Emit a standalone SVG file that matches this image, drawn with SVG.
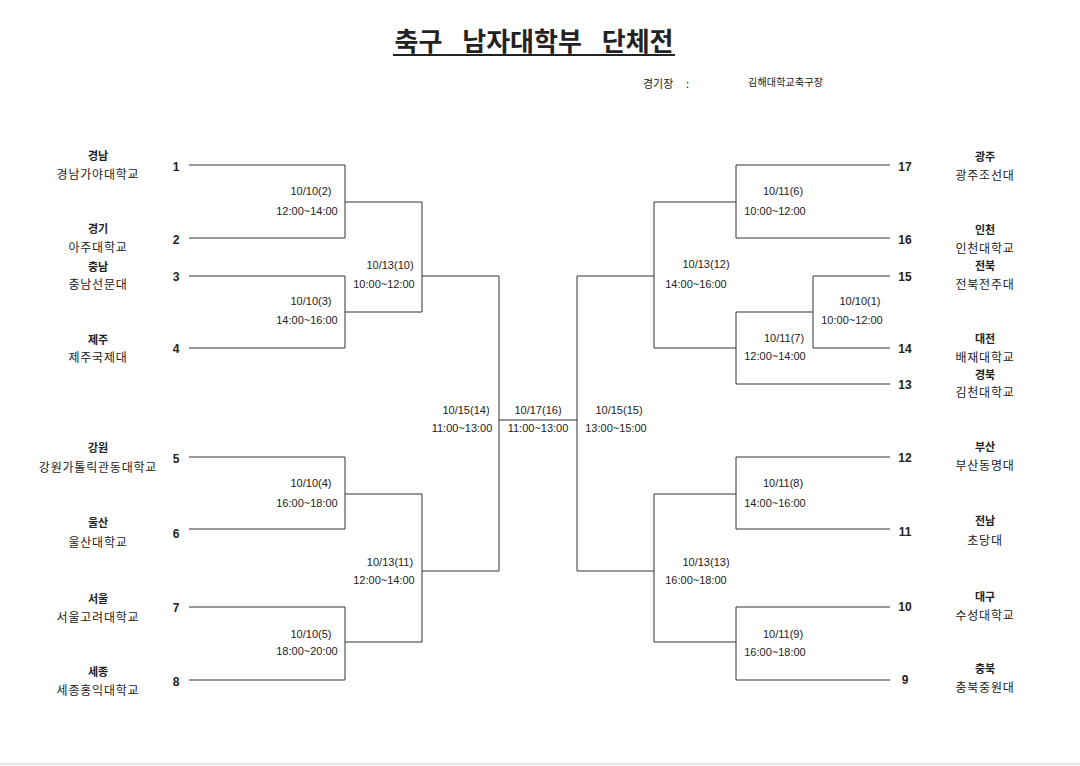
<svg xmlns="http://www.w3.org/2000/svg" width="1080" height="766" viewBox="0 0 1080 766">
<style>
text{font-family:"Noto Sans CJK KR","Noto Sans",sans-serif;fill:#222}
.t{font-size:26px;font-weight:bold;word-spacing:14px}
.v{font-size:11px}
.vs{font-size:10px;letter-spacing:0.2px}
.rg{font-size:11px;font-weight:bold;text-anchor:middle}
.sc{font-size:12px;letter-spacing:0.8px;text-anchor:middle}
.n{font-size:12px;font-weight:bold;text-anchor:middle;font-family:"Liberation Sans",sans-serif}
.m{font-size:11px;text-anchor:middle;font-family:"Liberation Sans",sans-serif}
.ln{stroke:#333;stroke-width:1;fill:none}
</style>
<rect width="1080" height="766" fill="#fff"/>
<g id="title">
<text class="t" x="534" y="51" text-anchor="middle">축구 남자대학부 단체전</text>
<line x1="393" y1="55" x2="675" y2="55" stroke="#222" stroke-width="2"/>
<text class="v" x="643" y="88">경기장</text>
<text class="v" x="686" y="88">:</text>
<text class="vs" x="748" y="86">김해대학교축구장</text>
</g>
<g id="connectors" class="ln">
<path d="M189 165H345V238H189M345 202H422"/>
<path d="M189 276H345V348H189M345 312H422"/>
<path d="M422 202V312M422 276H499"/>
<path d="M189 457H345V529H189M345 494H422"/>
<path d="M189 607H345V680H189M345 642H422"/>
<path d="M422 494V642M422 571H499"/>
<path d="M499 276V571M499 420H577M577 276V571"/>
<path d="M890 165H736V238H890M736 202H654"/>
<path d="M890 276H813V348H890M813 312H736"/>
<path d="M736 312V384H890M736 348H654"/>
<path d="M654 202V348M654 276H577"/>
<path d="M890 457H736V529H890M736 494H654"/>
<path d="M890 607H736V680H890M736 642H654"/>
<path d="M654 494V642M654 571H577"/>
</g>
<g id="seeds">
<text class="n" x="176" y="171">1</text>
<text class="n" x="176" y="244">2</text>
<text class="n" x="176" y="281">3</text>
<text class="n" x="176" y="353">4</text>
<text class="n" x="176" y="463">5</text>
<text class="n" x="176" y="538">6</text>
<text class="n" x="176" y="612">7</text>
<text class="n" x="176" y="686">8</text>
<text class="n" x="905" y="171">17</text>
<text class="n" x="905" y="244">16</text>
<text class="n" x="905" y="281">15</text>
<text class="n" x="905" y="353">14</text>
<text class="n" x="905" y="389">13</text>
<text class="n" x="905" y="462">12</text>
<text class="n" x="905" y="536">11</text>
<text class="n" x="905" y="611">10</text>
<text class="n" x="905" y="684">9</text>
</g>
<g id="teams-left">
<text class="rg" x="98" y="160">경남</text><text class="sc" x="98" y="179">경남가야대학교</text>
<text class="rg" x="98" y="233">경기</text><text class="sc" x="98" y="252">아주대학교</text>
<text class="rg" x="98" y="271">충남</text><text class="sc" x="98" y="289">충남선문대</text>
<text class="rg" x="98" y="344">제주</text><text class="sc" x="98" y="362">제주국제대</text>
<text class="rg" x="98" y="452">강원</text><text class="sc" x="98" y="472">강원가톨릭관동대학교</text>
<text class="rg" x="98" y="527">울산</text><text class="sc" x="98" y="547">울산대학교</text>
<text class="rg" x="98" y="603">서울</text><text class="sc" x="98" y="622">서울고려대학교</text>
<text class="rg" x="98" y="676">세종</text><text class="sc" x="98" y="695">세종홍익대학교</text>
</g>
<g id="teams-right">
<text class="rg" x="985" y="161">광주</text><text class="sc" x="985" y="180">광주조선대</text>
<text class="rg" x="985" y="234">인천</text><text class="sc" x="985" y="253">인천대학교</text>
<text class="rg" x="985" y="270">전북</text><text class="sc" x="985" y="289">전북전주대</text>
<text class="rg" x="985" y="343">대전</text><text class="sc" x="985" y="362">배재대학교</text>
<text class="rg" x="985" y="379">경북</text><text class="sc" x="985" y="397">김천대학교</text>
<text class="rg" x="985" y="451">부산</text><text class="sc" x="985" y="470">부산동명대</text>
<text class="rg" x="985" y="525">전남</text><text class="sc" x="985" y="545">초당대</text>
<text class="rg" x="985" y="601">대구</text><text class="sc" x="985" y="620">수성대학교</text>
<text class="rg" x="985" y="673">충북</text><text class="sc" x="985" y="692">충북중원대</text>
</g>
<g id="matches">
<text class="m" x="311" y="195">10/10(2)</text><text class="m" x="307" y="215">12:00~14:00</text>
<text class="m" x="311" y="305">10/10(3)</text><text class="m" x="307" y="324">14:00~16:00</text>
<text class="m" x="390" y="269">10/13(10)</text><text class="m" x="384" y="288">10:00~12:00</text>
<text class="m" x="311" y="487">10/10(4)</text><text class="m" x="307" y="507">16:00~18:00</text>
<text class="m" x="311" y="638">10/10(5)</text><text class="m" x="307" y="655">18:00~20:00</text>
<text class="m" x="390" y="566">10/13(11)</text><text class="m" x="384" y="584">12:00~14:00</text>
<text class="m" x="466" y="414">10/15(14)</text><text class="m" x="462" y="432">11:00~13:00</text>
<text class="m" x="538" y="414">10/17(16)</text><text class="m" x="538" y="432">11:00~13:00</text>
<text class="m" x="619" y="414">10/15(15)</text><text class="m" x="616" y="432">13:00~15:00</text>
<text class="m" x="783" y="195">10/11(6)</text><text class="m" x="775" y="215">10:00~12:00</text>
<text class="m" x="706" y="268">10/13(12)</text><text class="m" x="696" y="288">14:00~16:00</text>
<text class="m" x="860" y="305">10/10(1)</text><text class="m" x="852" y="324">10:00~12:00</text>
<text class="m" x="784" y="342">10/11(7)</text><text class="m" x="775" y="360">12:00~14:00</text>
<text class="m" x="783" y="487">10/11(8)</text><text class="m" x="775" y="507">14:00~16:00</text>
<text class="m" x="706" y="566">10/13(13)</text><text class="m" x="696" y="584">16:00~18:00</text>
<text class="m" x="783" y="638">10/11(9)</text><text class="m" x="775" y="656">16:00~18:00</text>
</g>
<line x1="0" y1="764" x2="1080" y2="764" stroke="#ddd" stroke-width="1.5"/>
</svg>
